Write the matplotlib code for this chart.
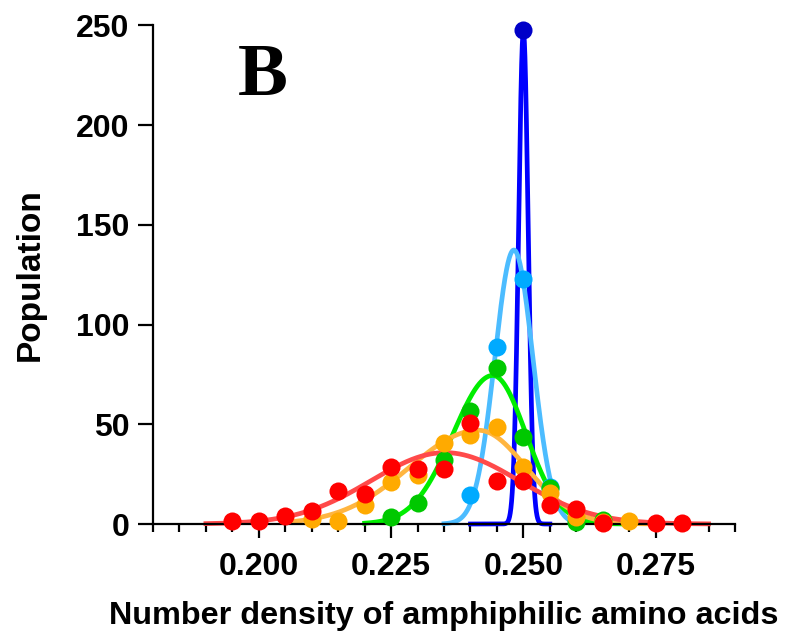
import numpy as np
import matplotlib
matplotlib.use("Agg")
import matplotlib.pyplot as plt
from matplotlib.ticker import MultipleLocator

plt.rcParams['font.family'] = ['Liberation Sans', 'DejaVu Sans']

# measured populations (x = number density, y = count)
red_x = [0.195, 0.200, 0.205, 0.210, 0.215, 0.220, 0.225, 0.230, 0.235, 0.240,
         0.245, 0.250, 0.255, 0.260, 0.265, 0.275, 0.280]
red_y = [1.7, 1.7, 4.0, 6.7, 16.7, 14.9, 28.7, 27.4, 27.4, 50.5,
         21.7, 21.7, 9.5, 7.4, 0.7, 0.7, 0.7]

orange_x = [0.210, 0.215, 0.220, 0.225, 0.230, 0.235, 0.240, 0.245, 0.250,
            0.255, 0.260, 0.265, 0.270]
orange_y = [2.4, 1.7, 9.5, 21.2, 24.6, 40.8, 44.6, 48.5, 28.7,
            15.4, 3.5, 1.0, 1.7]

green_x = [0.225, 0.230, 0.235, 0.240, 0.245, 0.250, 0.255, 0.260, 0.265]
green_y = [3.7, 10.4, 32.1, 56.8, 78.4, 43.8, 18.0, 1.2, 2.0]

lblue_x = [0.240, 0.245, 0.250, 0.255]
lblue_y = [14.5, 88.6, 122.7, 18.7]

dblue_x = [0.250]
dblue_y = [247.6]

# fitted peak curves: amplitude, centre, left width, right width, x range
fit_amp = [247.0, 137.4, 74.5, 47.0, 35.8]
fit_mu = [0.2500, 0.2482, 0.2442, 0.2415, 0.2352]
fit_sl = [0.0009, 0.0036, 0.0075, 0.0130, 0.0140]
fit_sr = [0.0009, 0.0036, 0.0063, 0.0090, 0.0140]
fit_lo = [0.240, 0.235, 0.220, 0.205, 0.190]
fit_hi = [0.255, 0.260, 0.270, 0.275, 0.285]

line_colors = ['#0000ff', '#4cbcff', '#00ee00', '#ffb540', '#ff4a4a']
dot_colors = ['#0000c8', '#00aaff', '#00c800', '#ffaa00', '#ff0000']
xs_all = [dblue_x, lblue_x, green_x, orange_x, red_x]
ys_all = [dblue_y, lblue_y, green_y, orange_y, red_y]


def split_gauss(x, amp, mu, sl, sr):
    s = np.where(x < mu, sl, sr)
    return amp * np.exp(-0.5 * ((x - mu) / s) ** 2)


fig = plt.figure(figsize=(7.87, 6.42), dpi=100)
ax = fig.add_axes([0.1944, 0.1838, 0.934 - 0.1944, 0.7765])

for i in range(5):
    xx = np.linspace(fit_lo[i], fit_hi[i], 600)
    ax.plot(xx, split_gauss(xx, fit_amp[i], fit_mu[i], fit_sl[i], fit_sr[i]),
            color=line_colors[i], lw=3.4, clip_on=False, zorder=2)

for i in range(5):
    ax.plot(xs_all[i], ys_all[i], 'o', color=dot_colors[i], ms=13, mew=0,
            clip_on=False, zorder=3 + i)

ax.set_xlim(0.18, 0.29)
ax.set_ylim(0, 250)
ax.spines['top'].set_visible(False)
ax.spines['right'].set_visible(False)
ax.spines['left'].set_linewidth(1.6)
ax.spines['bottom'].set_linewidth(1.6)

ax.set_xticks([0.200, 0.225, 0.250, 0.275])
ax.set_xticklabels(['0.200', '0.225', '0.250', '0.275'])
ax.xaxis.set_minor_locator(MultipleLocator(0.005))
ax.set_yticks([0, 50, 100, 150, 200, 250])
ax.tick_params(axis='x', which='major', length=10, width=1.6, pad=10, labelsize=23)
ax.tick_params(axis='x', which='minor', length=6, width=1.6)
ax.tick_params(axis='y', which='major', length=11, width=1.6, pad=6, labelsize=23)
for lab in ax.get_xticklabels() + ax.get_yticklabels():
    lab.set_fontweight('bold')

ax.set_xlabel('Number density of amphiphilic amino acids', fontsize=23.3,
              fontweight='bold', labelpad=14)
ax.set_ylabel('Population', fontsize=24, fontweight='bold', labelpad=22)

fig.text(263 / 787, 1 - 77 / 642, 'B', family='Liberation Serif', fontsize=54,
         fontweight='bold', ha='center', va='center')

fig.savefig('out.png', dpi=100)
